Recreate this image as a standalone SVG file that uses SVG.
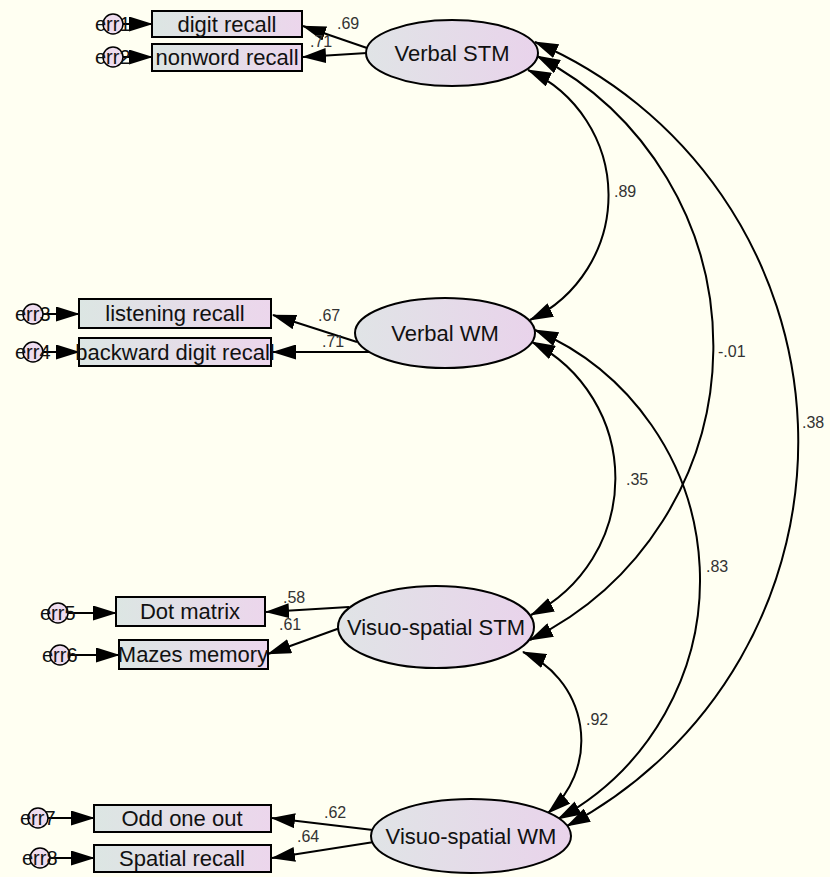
<svg xmlns="http://www.w3.org/2000/svg" width="830" height="877" viewBox="0 0 830 877">
<defs>
<linearGradient id="gbox" x1="0" y1="0" x2="1" y2="0">
<stop offset="0" stop-color="#DCE6E3"/><stop offset="1" stop-color="#ECD6EC"/>
</linearGradient>
<linearGradient id="gell" x1="0" y1="0" x2="1" y2="0">
<stop offset="0" stop-color="#E0E4E6"/><stop offset="1" stop-color="#E9D3EB"/>
</linearGradient>
<marker id="ah" viewBox="0 0 24 15" refX="23" refY="7.5" markerWidth="24" markerHeight="15" markerUnits="userSpaceOnUse" orient="auto-start-reverse">
<path d="M0,0 L24,7.5 L0,15 z" fill="#000"/>
</marker>
<style>
.box{fill:url(#gbox);stroke:#000;stroke-width:2}
.ell{fill:url(#gell);stroke:#000;stroke-width:2}
.err{fill:#EEDCEE;stroke:#000;stroke-width:1.5}
.t{font-family:"Liberation Sans",Arial,sans-serif;font-size:22px;fill:#111;text-anchor:middle}
.te{font-family:"Liberation Sans",Arial,sans-serif;font-size:22px;fill:#111;text-anchor:middle}
.tr{font-family:"Liberation Sans",Arial,sans-serif;font-size:20px;fill:#111}
.lb{font-family:"Liberation Sans",Arial,sans-serif;font-size:16px;fill:#333}
.c{fill:none;stroke:#000;stroke-width:2;marker-end:url(#ah)}
.cc{fill:none;stroke:#000;stroke-width:2;marker-start:url(#ah);marker-end:url(#ah)}
</style>
</defs>
<rect x="0" y="0" width="830" height="877" fill="#FFFFF2"/>

<g id="connectors">
<line class="c" x1="123" y1="24" x2="152" y2="24"/>
<line class="c" x1="123" y1="57" x2="152" y2="57"/>
<line class="c" x1="43" y1="314" x2="79" y2="314"/>
<line class="c" x1="43" y1="352" x2="79" y2="352"/>
<line class="c" x1="68" y1="613" x2="116" y2="613"/>
<line class="c" x1="70" y1="655" x2="119" y2="655"/>
<line class="c" x1="48" y1="818" x2="94" y2="818"/>
<line class="c" x1="50" y1="858" x2="94" y2="858"/>
<line class="c" x1="367" y1="48" x2="303" y2="26"/>
<line class="c" x1="367" y1="53" x2="303" y2="57"/>
<line class="c" x1="357" y1="342" x2="273" y2="315"/>
<line class="c" x1="369" y1="352" x2="273" y2="352"/>
<line class="c" x1="349" y1="607" x2="266" y2="612"/>
<line class="c" x1="340" y1="628" x2="268" y2="654"/>
<line class="c" x1="373" y1="830" x2="272" y2="818"/>
<line class="c" x1="374" y1="842" x2="272" y2="858"/>
<path class="cc" d="M528,70 A138,138 0 0 1 530,320"/>
<path class="cc" d="M537,56 A327,327 0 0 1 530,640"/>
<path class="cc" d="M535,42 A435,435 0 0 1 567,826"/>
<path class="cc" d="M532,342 A153,153 0 0 1 531,615"/>
<path class="cc" d="M535,330 A272,272 0 0 1 558,819"/>
<path class="cc" d="M523,652 A96,96 0 0 1 548,813"/>
<text class="lb" x="337" y="29">.69</text>
<text class="lb" x="310" y="47">.71</text>
<text class="lb" x="318" y="321">.67</text>
<text class="lb" x="322" y="347">.71</text>
<text class="lb" x="283" y="603">.58</text>
<text class="lb" x="279" y="630">.61</text>
<text class="lb" x="324" y="818">.62</text>
<text class="lb" x="297" y="842">.64</text>
<text class="lb" x="614" y="197">.89</text>
<text class="lb" x="718" y="357">-.01</text>
<text class="lb" x="802" y="428">.38</text>
<text class="lb" x="626" y="485">.35</text>
<text class="lb" x="706" y="572">.83</text>
<text class="lb" x="586" y="725">.92</text>
</g>

<g id="verbal-stm"><ellipse class="ell" cx="452" cy="53" rx="86" ry="33"/><text class="te" x="452" y="61">Verbal STM</text></g>
<g id="verbal-wm"><ellipse class="ell" cx="445" cy="333" rx="90" ry="35"/><text class="te" x="445" y="341">Verbal WM</text></g>
<g id="vs-stm"><ellipse class="ell" cx="436" cy="627" rx="98" ry="41"/><text class="te" x="436" y="635">Visuo-spatial STM</text></g>
<g id="vs-wm"><ellipse class="ell" cx="471" cy="836" rx="100" ry="37"/><text class="te" x="471" y="844">Visuo-spatial WM</text></g>

<g id="digit-recall"><rect class="box" x="152" y="11" width="150" height="26"/><text class="t" x="227" y="32">digit recall</text></g>
<g id="nonword-recall"><rect class="box" x="152" y="44" width="150" height="27"/><text class="t" x="227" y="65">nonword recall</text></g>
<g id="listening-recall"><rect class="box" x="79" y="299" width="192" height="29"/><text class="t" x="175" y="321">listening recall</text></g>
<g id="backward-digit-recall"><rect class="box" x="79" y="338" width="192" height="28"/><text class="t" x="175" y="360">backward digit recall</text></g>
<g id="dot-matrix"><rect class="box" x="116" y="597" width="149" height="29"/><text class="t" x="190" y="619">Dot matrix</text></g>
<g id="mazes-memory"><rect class="box" x="119" y="640" width="149" height="29"/><text class="t" x="193" y="662">Mazes memory</text></g>
<g id="odd-one-out"><rect class="box" x="94" y="805" width="177" height="27"/><text class="t" x="182" y="826">Odd one out</text></g>
<g id="spatial-recall"><rect class="box" x="94" y="845" width="177" height="27"/><text class="t" x="182" y="866">Spatial recall</text></g>

<g id="err1"><circle class="err" cx="113" cy="24" r="10"/><text class="tr" x="95" y="31">err1</text></g>
<g id="err2"><circle class="err" cx="113" cy="57" r="10"/><text class="tr" x="95" y="64">err2</text></g>
<g id="err3"><circle class="err" cx="33" cy="314" r="10"/><text class="tr" x="15" y="321">err3</text></g>
<g id="err4"><circle class="err" cx="33" cy="352" r="10"/><text class="tr" x="15" y="359">err4</text></g>
<g id="err5"><circle class="err" cx="58" cy="613" r="10"/><text class="tr" x="40" y="620">err5</text></g>
<g id="err6"><circle class="err" cx="60" cy="655" r="10"/><text class="tr" x="42" y="662">err6</text></g>
<g id="err7"><circle class="err" cx="38" cy="818" r="10"/><text class="tr" x="20" y="825">err7</text></g>
<g id="err8"><circle class="err" cx="40" cy="858" r="10"/><text class="tr" x="22" y="865">err8</text></g>
</svg>
